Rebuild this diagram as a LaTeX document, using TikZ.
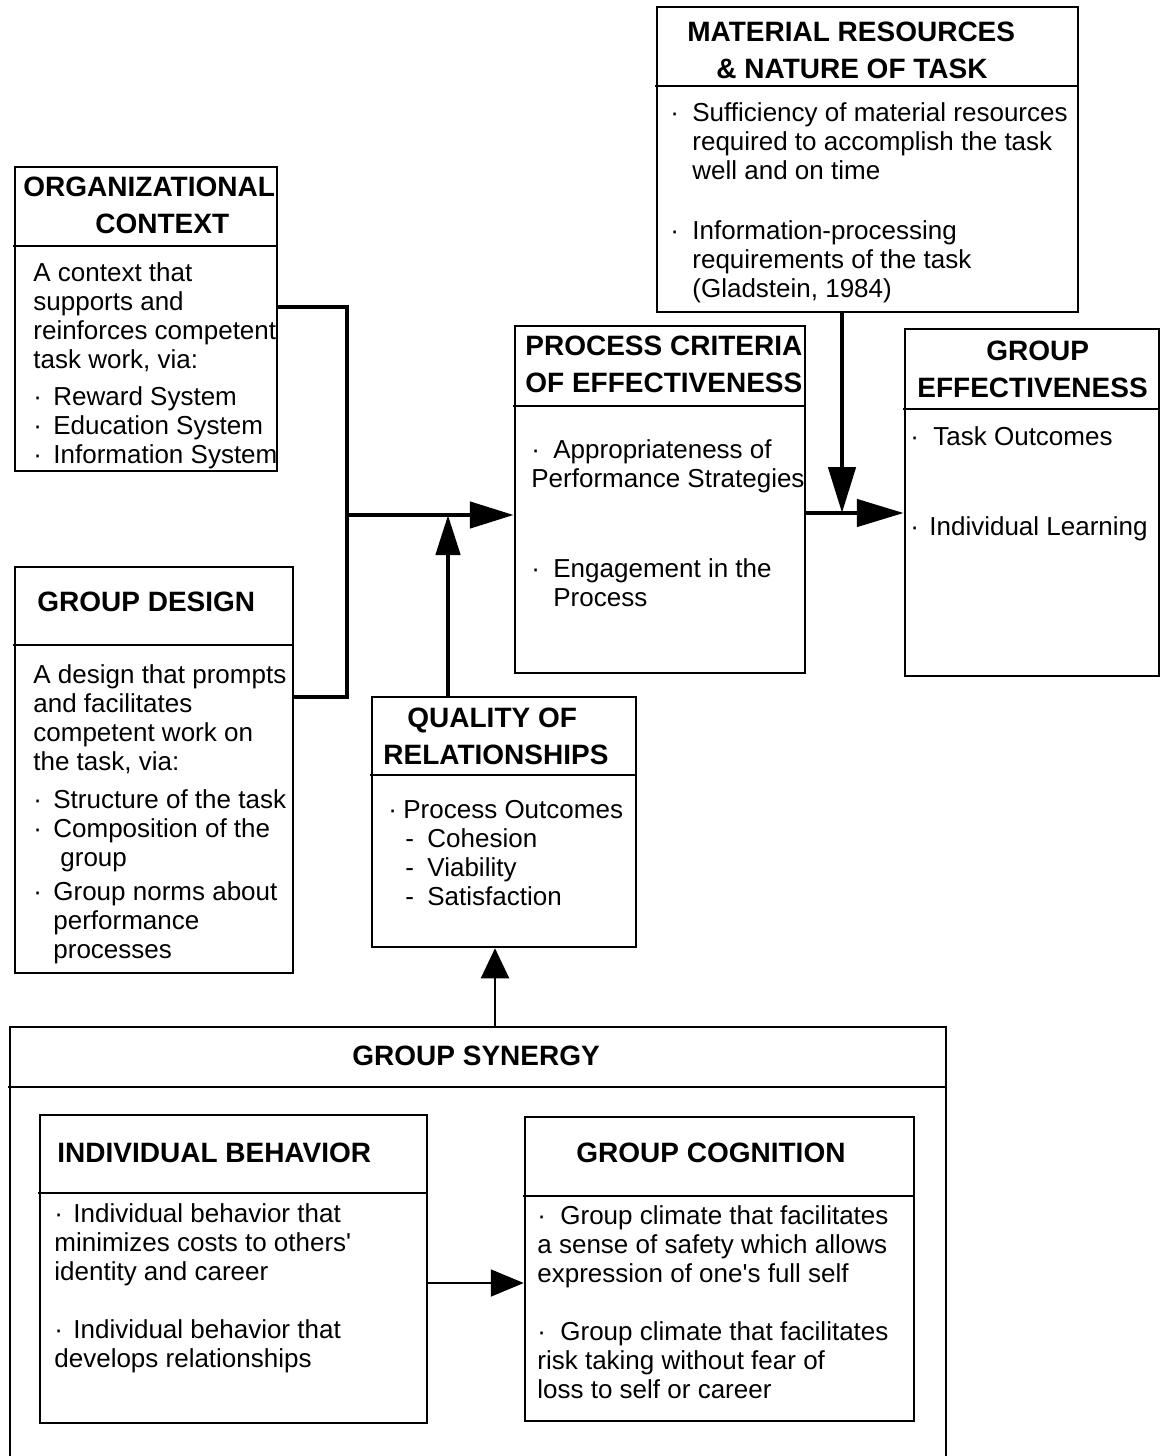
\documentclass[tikz,border=0pt]{standalone}
\usepackage{fontspec}
\setmainfont{Liberation Sans}
\usetikzlibrary{arrows.meta,fit}
\newcommand\dotitem[1]{\makebox[#1][l]{·}}
\begin{document}
% multi-line texts are placed by the baseline of their last line
\begin{tikzpicture}[x=0.5pt,y=-0.5pt,
  frame/.style={draw, line width=1.25pt, inner sep=0pt},
  rule/.style={line width=1.25pt},
  hd/.style={font=\bfseries\fontsize{14}{18.5}\selectfont, inner sep=0pt, anchor=base west, align=left},
  txt/.style={font=\fontsize{13}{14.5}\selectfont, inner sep=0pt, anchor=base west, align=left},
  heavy/.style={line width=2.4pt},
  heavyarrow/.style={line width=2.4pt, -{Triangle[length=22pt,width=13pt]}},
  thinarrow/.style={line width=1pt, -{Triangle[length=15pt,width=14pt]}},
]
\useasboundingbox (0,0) rectangle (1161,1456);

% ---- boxes ----
\node[frame, fit={(15,167) (277,471)}] (oc) {};
\node[frame, fit={(15,567) (293,973)}] (gd) {};
\node[frame, fit={(657,7) (1078,312)}] (mr) {};
\node[frame, fit={(515,326) (805,673)}] (pc) {};
\node[frame, fit={(905,329) (1159,676)}] (ge) {};
\node[frame, fit={(372,697) (636,947)}] (qr) {};
\node[frame, fit={(10,1027) (946,1490)}] (gs) {};
\node[frame, fit={(40,1115) (427,1423)}] (ib) {};
\node[frame, fit={(525,1117) (914,1421)}] (gc) {};

% ---- header rules ----
\draw[rule] (13,246) -- (277,246);
\draw[rule] (13,645) -- (293,645);
\draw[rule] (655,86) -- (1078,86);
\draw[rule] (513,406) -- (805,406);
\draw[rule] (903,409) -- (1159,409);
\draw[rule] (370,775) -- (636,775);
\draw[rule] (8,1087) -- (946,1087);
\draw[rule] (38,1193) -- (427,1193);
\draw[rule] (523,1196) -- (914,1196);

% ---- headers ----
\node[hd] (ochd) at (23,233) {ORGANIZATIONAL\\\hspace*{36pt}CONTEXT};
\node[hd] (gdhd) at (37,611) {GROUP DESIGN};
\node[hd] (mrhd) at (687,78) {MATERIAL RESOURCES\\\hspace*{14.5pt}\& NATURE OF TASK};
\node[hd] (pchd) at (525,392) {PROCESS CRITERIA\\OF EFFECTIVENESS};
\node[hd] (gehd) at (917,397) {\hspace*{34.5pt}GROUP\\EFFECTIVENESS};
\node[hd] (qrhd) at (383,764) {\hspace*{12pt}QUALITY OF\\RELATIONSHIPS};
\node[hd] (gshd) at (352,1065) {GROUP SYNERGY};
\node[hd] (ibhd) at (57,1162) {INDIVIDUAL BEHAVIOR};
\node[hd] (gchd) at (576,1162) {GROUP COGNITION};

% ---- body texts ----
\node[txt] (octx) at (33,463) {A context that\\supports and\\reinforces competent\\task work, via:\\[4pt]%
  \dotitem{10pt}Reward System\\\dotitem{10pt}Education System\\\dotitem{10pt}Information System};
\node[txt] (gdtx) at (33,958) {A design that prompts\\and facilitates\\competent work on\\the task, via:\\[4.5pt]%
  \dotitem{10pt}Structure of the task\\\dotitem{10pt}Composition of the\\\hspace*{13.5pt}group\\[2.5pt]%
  \dotitem{10pt}Group norms about\\\hspace*{10pt}performance\\\hspace*{10pt}processes};
\node[txt] (mrtx) at (670,297) {\dotitem{11pt}Sufficiency of material resources\\\hspace*{11pt}required to accomplish the task\\\hspace*{11pt}well and on time\\[15.5pt]%
  \dotitem{11pt}Information-processing\\\hspace*{11pt}requirements of the task\\\hspace*{11pt}(Gladstein, 1984)};
\node[txt] (pctx) at (531,606) {\dotitem{11pt}Appropriateness of\\Performance Strategies\\[30.5pt]%
  \dotitem{11pt}Engagement in the\\\hspace*{11pt}Process};
\node[txt] (getx) at (910,535) {\dotitem{11.5pt}Task Outcomes\\[30.5pt]\dotitem{9.5pt}Individual Learning};
\node[txt] (qrtx) at (388,905) {\dotitem{7.5pt}Process Outcomes\\\hspace*{8.5pt}\makebox[11pt][l]{-}Cohesion\\%
  \hspace*{8.5pt}\makebox[11pt][l]{-}Viability\\\hspace*{8.5pt}\makebox[11pt][l]{-}Satisfaction};
\node[txt] (ibtx) at (54,1367) {\dotitem{9.5pt}Individual behavior that\\minimizes costs to others\textquotesingle\\identity and career\\[14.5pt]%
  \dotitem{9.5pt}Individual behavior that\\develops relationships};
\node[txt] (gctx) at (537,1398) {\dotitem{11.5pt}Group climate that facilitates\\a sense of safety which allows\\expression of one\textquotesingle s full self\\[14.5pt]%
  \dotitem{11.5pt}Group climate that facilitates\\risk taking without fear of\\loss to self or career};

% ---- connectors ----
\coordinate (jt) at (347,307);
\coordinate (jb) at (347,697);
\coordinate (jm) at (347,515);
\coordinate (jq) at (448,515);
\coordinate (jr) at (842,513);
\coordinate (ju) at (495,990);
\coordinate (jc) at (476,1283);

\draw[heavy] (oc.east |- jt) -- (jt) -- (jb) -- (gd.east |- jb);
\draw[heavyarrow] (jm) -- (pc.west |- jm);
\draw[heavyarrow, -{Triangle[length=20pt,width=12pt]}] (qr.north -| jq) -- (jq);
\draw[heavyarrow, -{Triangle[length=23pt,width=13.5pt]}] (mr.south -| jr) -- (jr);
\draw[heavyarrow, -{Triangle[length=23.5pt,width=13.5pt]}] (pc.east |- jr) -- (ge.west |- jr);
\draw[thinarrow] (gs.north -| ju) -- (qr.south -| ju);
\draw[thinarrow, -{Triangle[length=16.5pt,width=13.5pt]}] (ib.east |- jc) -- (gc.west |- jc);
\end{tikzpicture}
\end{document}
